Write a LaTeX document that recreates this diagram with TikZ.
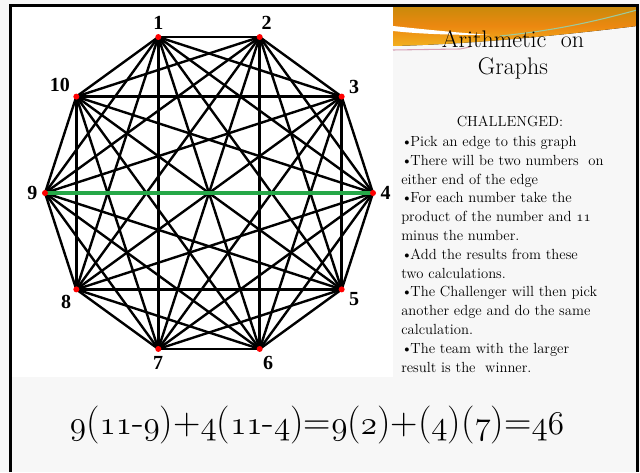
\documentclass[tikz,border=0pt]{standalone}
\usepackage{fontspec}
\newfontfamily\labelfont{Liberation Serif}
\usetikzlibrary{positioning,calc}
\definecolor{hdrgold}{RGB}{200,138,10}
\definecolor{hdrorange}{RGB}{236,136,16}
\definecolor{hdryellow}{RGB}{242,176,30}
\definecolor{edgegreen}{RGB}{38,168,72}
\definecolor{panelgray}{RGB}{247,247,247}
\definecolor{streakpink}{RGB}{214,160,180}
% old-style figures
\newcommand{\os}[1]{{\usefont{OML}{cmm}{m}{it}#1}}
\newcommand{\bul}{\textbullet\kern-1.5pt}

\begin{document}
\begin{tikzpicture}[x=0.75pt,y=0.75pt,
  vtx/.style={circle,fill=red,inner sep=0pt,minimum size=4.5pt},
  lbl/.style={font=\labelfont\bfseries\fontsize{15}{15}\selectfont,inner sep=1pt},
  edge/.style={line width=1.8pt,black},
  pick/.style={line width=2.3pt,edgegreen},
  title/.style={font=\fontsize{18}{20}\selectfont,align=center,inner sep=0pt},
  body/.style={font=\fontsize{11}{14.1}\selectfont,align=left,inner sep=0pt},
  formula/.style={font=\fontsize{28.5}{30}\selectfont,inner sep=0pt}
]
  \useasboundingbox (0,0) rectangle (640,472);
  \fill[panelgray] (0,0) rectangle (640,472);
  \fill[white] (12,95) rectangle (393,466);

  % header swoosh
  \fill[top color=hdrgold,bottom color=hdryellow,middle color=hdrorange]
    (393,466) -- (637,466) -- (637,446)
    .. controls (580,439) and (480,428) .. (393,426) -- cycle;
  \fill[white] (393,446) .. controls (420,443) and (450,440) .. (490,437)
    .. controls (450,437) and (420,438) .. (393,441) -- cycle;
  \draw[green!30!gray!60,line width=0.8pt] (500,436) .. controls (560,442) and (600,452) .. (637,462);
  \draw[streakpink,line width=0.8pt] (393,422) -- (460,423) -- (470,425);

  % frame
  \draw[line width=1.9pt] (10.5,0) -- (10.5,466.5) -- (637.3,466.5) -- (637.3,0);

  % complete graph on ten vertices
  \foreach \k in {1,...,10}
    \coordinate (v\k) at ($(209,279)+({108-36*(\k-1)}:164)$);
  \foreach \i in {1,...,9}{
    \pgfmathtruncatemacro\nxt{\i+1}
    \foreach \j in {\nxt,...,10}
      \draw[edge] (v\i) -- (v\j);
  }
  \draw[pick] (v9) -- (v4);
  \foreach \k/\ang in {1/90,2/87,3/12,4/0,5/-10,6/-72,7/-92,8/-128,9/180,10/145}
    \node[vtx,label={[lbl,label distance=2pt]\ang:\k}] (d\k) at (v\k) {};

  % slide texts
  \node[title] (head) at (513,417) {Arithmetic\ \ on\\Graphs};
  \node[body,anchor=base] (chal) at (510,345) {CHALLENGED:};
  \node[body,anchor=north west] (rules) at (401,336) {%
    \bul Pick an edge to this graph\\
    \bul There will be two numbers\ \ on\\
    either end of the edge\\
    \bul For each number take the\\
    product of the number and \os{11}\\
    minus the number.\\
    \bul Add the results from these\\
    two calculations.\\
    \bul The Challenger will then pick\\
    another edge and do the same\\
    calculation.\\
    \bul The team with the larger\\
    result is the\ \ winner.};
  \node[formula,anchor=base] (calc) at (317,37)
    {\os{9}(\os{11}-\os{9})+\os{4}(\os{11}-\os{4})=\os{9}(\os{2})+(\os{4})(\os{7})=\os{46}};
\end{tikzpicture}
\end{document}
